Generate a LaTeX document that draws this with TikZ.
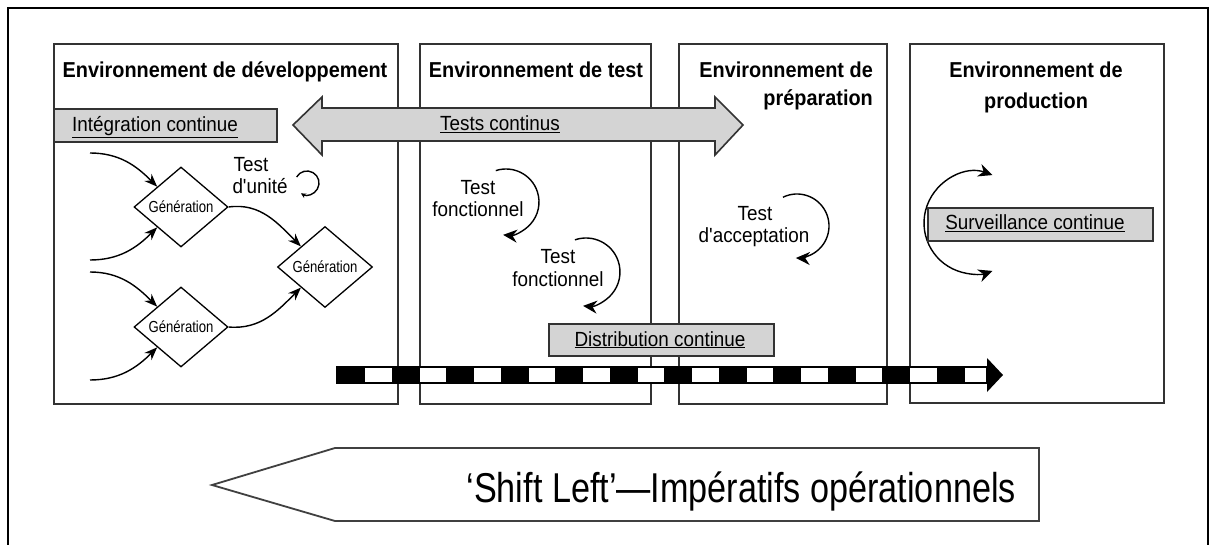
\documentclass[tikz,border=0pt]{standalone}
\usepackage{fontspec}
\setmainfont{Liberation Sans}
\newfontfamily\cnd{Liberation Sans}[FakeStretch=0.92]
\newfontfamily\cndx{Liberation Sans}[FakeStretch=0.82]
\usetikzlibrary{arrows.meta,shapes.geometric}
\begin{document}
\begin{tikzpicture}[x=1pt,y=1pt,
  envbox/.style={draw=black!80, line width=2pt, inner sep=0, anchor=north west},
  ttl/.style={font=\cnd\bfseries\fontsize{21.6}{24}\selectfont, inner sep=0},
  lbl/.style={font=\cnd\fontsize{20.5}{23}\selectfont, inner sep=0},
  gen/.style={shape=diamond, draw, line width=1.3pt, aspect=1.175, minimum width=94pt, minimum height=80pt, inner sep=0, font=\cndx\fontsize{16}{18}\selectfont},
  graybox/.style={draw=black!80, line width=1.6pt, fill=black!17},
  arr/.style={line width=1.4pt, -{Stealth[length=13pt,width=10pt]}},
  loopa/.style={line width=1.4pt, -{Stealth[length=14pt,width=13pt]}},
]
\useasboundingbox (0,0) rectangle (1209,-545);
\fill[white] (0,0) rectangle (1209,-545);
\draw[line width=2pt] (8,-545) -- (8,-8) -- (1208,-8) -- (1208,-545);

% environment boxes
\node[envbox, minimum width=344pt, minimum height=360pt] (dev) at (53,-43) {};
\node[envbox, minimum width=231pt, minimum height=360pt] (test) at (419,-43) {};
\node[envbox, minimum width=208pt, minimum height=360pt] (prep) at (678,-43) {};
\node[envbox, minimum width=254pt, minimum height=359pt] (prod) at (909,-43) {};

% titles
\node[ttl, anchor=base] (tdev) at (225,-78) {Environnement de développement};
\node[ttl, anchor=base] (ttest) at (536,-78) {Environnement de test};
\node[ttl, anchor=base east] (tprep1) at (873,-78) {Environnement de};
\node[ttl, anchor=base east] (tprep2) at (873,-106) {préparation};
\node[ttl, anchor=base] (tprod1) at (1036,-78) {Environnement de};
\node[ttl, anchor=base] (tprod2) at (1036,-109) {production};

% integration continue
\node[graybox, anchor=north west, minimum width=223pt, minimum height=33pt, inner sep=0] (ic) at (53,-108) {};
\node[lbl, anchor=base west] (ict) at (72,-132) {\underline{Intégration continue}};

% tests continus double arrow
\draw[graybox] (293,-125) -- (322,-97) -- (322,-108) -- (715,-108) -- (715,-97) -- (743,-125)
  -- (715,-155) -- (715,-141) -- (322,-141) -- (322,-155) -- cycle;
\node[lbl, anchor=base west] (tct) at (440,-131) {\underline{Tests continus}};

% generation diamonds
\node[gen] (g1) at (181,-207) {Génération};
\node[gen] (g2) at (181,-327) {Génération};
\node[gen, minimum width=95pt, minimum height=81pt] (g3) at (325,-267) {Génération};
\coordinate (s1) at (90,-153);
\coordinate (s2) at (90,-260);
\coordinate (s3) at (90,-272);
\coordinate (s4) at (90,-380);
\draw[arr] (s1) to[out=0,in=135] (g1.north west);
\draw[arr] (s2) to[out=0,in=225] (g1.south west);
\draw[arr] (s3) to[out=0,in=135] (g2.north west);
\draw[arr] (s4) to[out=0,in=225] (g2.south west);
\draw[arr] (g1.east) to[out=8,in=135] (g3.north west);
\draw[arr] (g2.east) to[out=-5,in=225] (g3.south west);

% test d'unite
\node[lbl, anchor=base] (tu1) at (251,-172) {Test};
\node[lbl, anchor=base] (tu2) at (260,-194) {d'unité};
\coordinate (lu) at (307,-183);
\draw[line width=1.4pt, -{Stealth[length=5pt,width=5pt]}] ([shift={(150:12)}]lu) arc[start angle=150,end angle=-120,radius=12];

% test fonctionnel 1
\node[lbl, anchor=base] (tf1a) at (478,-195) {Test};
\node[lbl, anchor=base] (tf1b) at (478,-217) {fonctionnel};
\coordinate (lf1) at (506,-202);
\draw[loopa] ([shift={(108:33)}]lf1) arc[start angle=108,end angle=-95,radius=33];

% test fonctionnel 2
\node[lbl, anchor=base] (tf2a) at (558,-264) {Test};
\node[lbl, anchor=base] (tf2b) at (558,-286) {fonctionnel};
\coordinate (lf2) at (586,-272);
\draw[loopa] ([shift={(109:34)}]lf2) arc[start angle=109,end angle=-95,radius=34];

% test d'acceptation
\node[lbl, anchor=base] (ta1) at (755,-221) {Test};
\node[lbl, anchor=base] (ta2) at (754,-243) {d'acceptation};
\coordinate (la) at (797,-226);
\draw[loopa] ([shift={(116:32)}]la) arc[start angle=116,end angle=-92,radius=32];

% surveillance continue
\coordinate (ls) at (975,-223);
\draw[line width=1.4pt, {Stealth[length=14pt,width=13pt]}-{Stealth[length=14pt,width=13pt]}] ([shift={(70:51)}]ls) arc[start angle=70,end angle=290,radius=51];
\node[graybox, anchor=north west, minimum width=225pt, minimum height=33pt, inner sep=0] (sc) at (927,-207) {};
\node[lbl, anchor=base] (sct) at (1035,-230) {\underline{Surveillance continue}};

% distribution continue
\node[graybox, anchor=north west, minimum width=225pt, minimum height=32pt, inner sep=0] (dc) at (548,-323) {};
\node[lbl, anchor=base] (dct) at (660,-346) {\underline{Distribution continue}};

% dashed delivery bar
\coordinate (bs) at (337,-375);
\coordinate (be) at (1003,-375);
\filldraw[fill=white, draw=black, line width=1.2pt] (337,-367) rectangle (987,-383);
\foreach \k in {0,...,11} \fill ({337+54.5*\k},-367) rectangle ++(28,-16);
\fill (987,-358) -- (be) -- (987,-392) -- cycle;

% shift left arrow
\draw[line width=1.8pt, draw=black!75] (212,-485) -- (335,-448) -- (1039,-448) -- (1039,-521) -- (335,-521) -- cycle;
\node[font=\cndx\fontsize{41.7}{46}\selectfont, inner sep=0, anchor=base east] (sl) at (1016,-502) {‘Shift Left’—Impératifs opérationnels};
\end{tikzpicture}
\end{document}
